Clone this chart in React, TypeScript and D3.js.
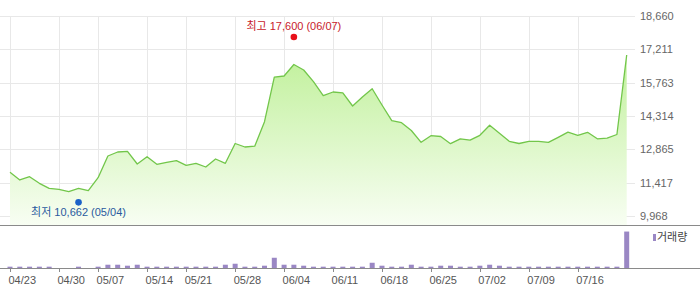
import React from "react";
import * as d3 from "d3";

// ---- data ----
const closes: number[] = [
  11867, 11533, 11676, 11389, 11172, 11128, 11024, 11172, 11068, 11632,
  12576, 12749, 12780, 12228, 12545, 12215, 12302, 12371, 12171, 12258,
  12098, 12445, 12258, 13119, 12967, 13001, 14066, 16000, 16052, 16552,
  16313, 15805, 15196, 15357, 15322, 14749, 15140, 15500, 14792, 14110,
  14023, 13684, 13171, 13458, 13423, 13110, 13323, 13262, 13475, 13910,
  13562, 13214, 13119, 13214, 13214, 13171, 13388, 13610, 13475, 13606,
  13323, 13349, 13510, 16965,
];

// volume (thousand shares)
const volumes: number[] = [
  36, 36, 36, 36, 36, 0, 0, 36, 0, 36,
  90, 90, 63, 90, 36, 36, 36, 36, 36, 36,
  36, 36, 90, 117, 36, 36, 63, 281, 90, 90,
  63, 36, 36, 36, 36, 36, 36, 144, 63, 36,
  36, 90, 36, 36, 63, 63, 36, 36, 63, 90,
  63, 36, 36, 36, 36, 36, 36, 36, 36, 36,
  36, 36, 36, 1000,
];

const tickLabels: string[] = [
  "04/23", "04/30", "05/07", "05/14", "05/21", "05/28", "06/04",
  "06/11", "06/18", "06/25", "07/02", "07/09", "07/16",
];
const tickIndex: number[] = [0, 5, 9, 14, 18, 23, 28, 33, 38, 43, 48, 53, 58];

const yTicks: number[] = [9968, 11417, 12865, 14314, 15763, 17211, 18660];

const highValue = 17600;
const highDate = "06/07";
const highIdx = 29;
const lowValue = 10662;
const lowDate = "05/04";
const lowIdx = 7;

const legendLabel = "거래량";

// ---- layout ----
const W = 700;
const H = 289;
const plotLeft = 0;
const plotRight = 635;
const priceTop = 16;
const priceBottom = 225;
const volTop = 229;
const volBottom = 268;

const FONT = "'Liberation Sans', Arial, 'Noto Sans CJK KR', sans-serif";

export default function App() {
  const x = d3.scaleLinear().domain([0, closes.length - 1]).range([10, 626.7]);
  const y = d3
    .scaleLinear()
    .domain([yTicks[0], yTicks[yTicks.length - 1]])
    .range([216, priceTop]);
  const vy = d3
    .scaleLinear()
    .domain([0, (d3.max(volumes) as number) * 1.07])
    .range([volBottom, volTop]);

  const line = d3
    .line<number>()
    .x((_, i) => x(i))
    .y((d) => y(d));
  const area = d3
    .area<number>()
    .x((_, i) => x(i))
    .y0(priceBottom)
    .y1((d) => y(d));

  const fmt = d3.format(",");
  const barW = 5;

  return (
    <svg
      width={W}
      height={H}
      style={{ position: "absolute", left: 0, top: 0, background: "#fff" }}
      fontFamily={FONT}
    >
      <defs>
        <linearGradient id="fillG" gradientUnits="userSpaceOnUse" x1="0" y1={40} x2="0" y2={priceBottom}>
          <stop offset="0" stopColor="#bcef94" />
          <stop offset="1" stopColor="#f8fef3" />
        </linearGradient>
      </defs>

      {/* horizontal grid */}
      {yTicks.map((t) => (
        <line
          key={"h" + t}
          x1={plotLeft}
          x2={plotRight}
          y1={Math.round(y(t)) + 0.5}
          y2={Math.round(y(t)) + 0.5}
          stroke="#e8e8e8"
        />
      ))}
      {/* vertical grid */}
      {tickIndex.map((ti) => (
        <line
          key={"v" + ti}
          x1={Math.round(x(ti)) + 0.5}
          x2={Math.round(x(ti)) + 0.5}
          y1={priceTop}
          y2={priceBottom}
          stroke="#e8e8e8"
        />
      ))}

      {/* area + line */}
      <path d={area(closes) || ""} fill="url(#fillG)" />
      <path d={line(closes) || ""} fill="none" stroke="#72c64a" strokeWidth={1.3} strokeLinejoin="round" />

      {/* price bottom axis */}
      <line x1={0} x2={W} y1={priceBottom + 0.5} y2={priceBottom + 0.5} stroke="#8a8a8a" />

      {/* y tick labels */}
      {yTicks.map((t) => (
        <text
          key={"yl" + t}
          x={640}
          y={y(t)}
          dy="0.35em"
          fontSize={11}
          fill="#666"
        >
          {fmt(t)}
        </text>
      ))}

      {/* high / low annotations */}
      <circle cx={x(highIdx)} cy={y(highValue) - 3.4} r={3.3} fill="#e8101a" />
      <text
        x={x(highIdx)}
        y={y(highValue) - 10}
        textAnchor="middle"
        fontSize={11}
        fill="#c8202a"
      >
        {`최고 ${fmt(highValue)} (${highDate})`}
      </text>
      <circle cx={x(lowIdx)} cy={y(lowValue) + 2.3} r={3.3} fill="#1a62c8" />
      <text
        x={x(lowIdx)}
        y={y(lowValue) + 16}
        textAnchor="middle"
        fontSize={11}
        fill="#2a5a9e"
      >
        {`최저 ${fmt(lowValue)} (${lowDate})`}
      </text>

      {/* volume bars */}
      {volumes.map((v, i) =>
        v > 0 ? (
          <rect
            key={"b" + i}
            x={x(i) - barW / 2}
            y={vy(v)}
            width={barW}
            height={volBottom - vy(v)}
            fill="#9a87c4"
          />
        ) : null
      )}

      {/* volume baseline */}
      <line x1={0} x2={W} y1={volBottom + 0.5} y2={volBottom + 0.5} stroke="#8a8a8a" />

      {/* x ticks & labels */}
      {tickIndex.map((ti, k) => (
        <g key={"xt" + ti}>
          <line
            x1={Math.round(x(ti)) + 0.5}
            x2={Math.round(x(ti)) + 0.5}
            y1={volBottom}
            y2={volBottom + 4}
            stroke="#8a8a8a"
          />
          <text x={x(ti) - 1.5} y={284} fontSize={11} fill="#555">
            {tickLabels[k]}
          </text>
        </g>
      ))}

      {/* legend */}
      <rect x={653} y={234} width={3} height={7} fill="#9a87c4" />
      <text x={657} y={241} fontSize={11} fill="#444">
        {legendLabel}
      </text>
    </svg>
  );
}
